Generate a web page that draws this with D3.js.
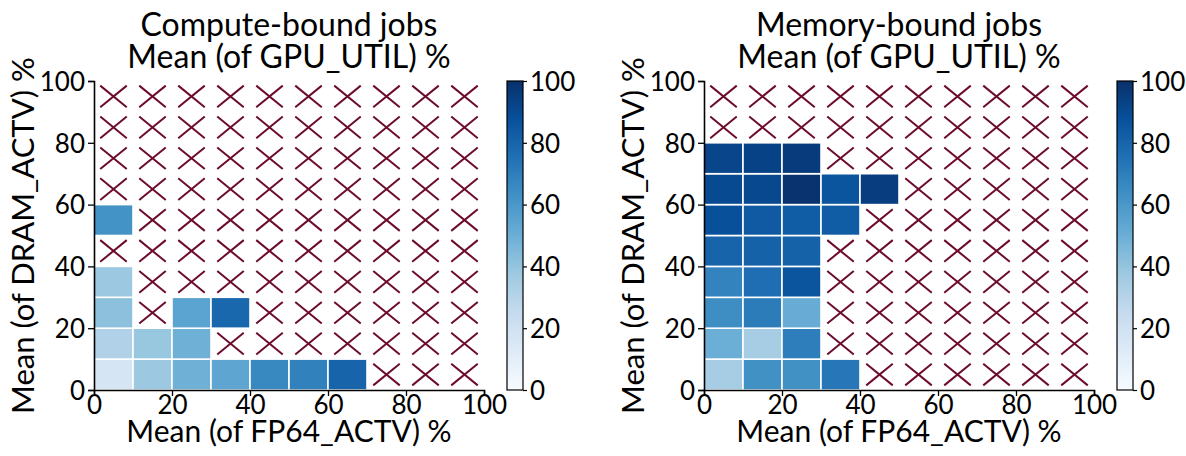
<!DOCTYPE html>
<html>
<head>
<meta charset="utf-8">
<script src="https://cdn.jsdelivr.net/npm/d3@7"></script>
<style>
  html, body { margin: 0; padding: 0; background: #fff; }
  svg text { font-family: "Lato", "DejaVu Sans", sans-serif; fill: #000; }
</style>
</head>
<body>
<svg id="chart" width="1186" height="456"></svg>
<script>
// Bin edges (percent) shared by both heatmaps
const binEdges = [0, 10, 20, 30, 40, 50, 60, 70, 80, 90, 100];
const tickValues = [0, 20, 40, 60, 80, 100];

// Mean GPU_UTIL % per (DRAM_ACTV bin, FP64_ACTV bin); rows go from DRAM 0-10 upward.
// null = no jobs in that bin.
const computeBoundUtil = [
  [17, 38, 49, 54, 66, 69, 80, null, null, null],
  [32, 39, 49, null, null, null, null, null, null, null],
  [42, null, 55, 79, null, null, null, null, null, null],
  [38, null, null, null, null, null, null, null, null, null],
  [null, null, null, null, null, null, null, null, null, null],
  [62, null, null, null, null, null, null, null, null, null],
  [null, null, null, null, null, null, null, null, null, null],
  [null, null, null, null, null, null, null, null, null, null],
  [null, null, null, null, null, null, null, null, null, null],
  [null, null, null, null, null, null, null, null, null, null]
];

const memoryBoundUtil = [
  [35, 63, 63, 73, null, null, null, null, null, null],
  [50, 35, 70, null, null, null, null, null, null, null],
  [64, 71, 51, null, null, null, null, null, null, null],
  [68, 76, 86, null, null, null, null, null, null, null],
  [80, 81, 81, null, null, null, null, null, null, null],
  [88, 84, 83, 83, null, null, null, null, null, null],
  [90, 91, 99, 86, 95, null, null, null, null, null],
  [92, 93, 96, null, null, null, null, null, null, null],
  [null, null, null, null, null, null, null, null, null, null],
  [null, null, null, null, null, null, null, null, null, null]
];

const panelTitles = [
  ["Compute-bound jobs", "Mean (of GPU_UTIL) %"],
  ["Memory-bound jobs", "Mean (of GPU_UTIL) %"]
];
const xLabel = "Mean (of FP64_ACTV) %";
const yLabel = "Mean (of DRAM_ACTV) %";

// Sequential "Blues" ramp
const bluesStops = ["#f7fbff", "#deebf7", "#c6dbef", "#9ecae1", "#6baed6",
                    "#4292c6", "#2171b5", "#08519c", "#08306b"];
const color = d3.scaleLinear()
  .domain(bluesStops.map((_, i) => i * 100 / (bluesStops.length - 1)))
  .range(bluesStops)
  .interpolate(d3.interpolateRgb)
  .clamp(true);

const svg = d3.select("#chart");
const defs = svg.append("defs");
const grad = defs.append("linearGradient")
  .attr("id", "bluesGrad").attr("x1", 0).attr("y1", 1).attr("x2", 0).attr("y2", 0);
bluesStops.forEach((c, i) => {
  grad.append("stop").attr("offset", i / (bluesStops.length - 1)).attr("stop-color", c);
});

const plotTop = 81, plotH = 309, plotW = 390;
const panels = [
  { data: computeBoundUtil, left: 94, cbLeft: 507, titles: panelTitles[0] },
  { data: memoryBoundUtil, left: 704, cbLeft: 1117, titles: panelTitles[1] }
];

const tickFont = 26, labelFont = 30, titleFont = 32;
const crossColor = "#6c0b2d";

panels.forEach(p => {
  const x = d3.scaleLinear().domain([0, 100]).range([0, plotW]);
  const y = d3.scaleLinear().domain([0, 100]).range([plotH, 0]);
  const g = svg.append("g").attr("transform", `translate(${p.left},${plotTop})`);

  const cells = [];
  p.data.forEach((row, r) => row.forEach((v, c) => cells.push({ r, c, v })));

  // filled bins
  g.selectAll("rect.cell").data(cells.filter(d => d.v !== null)).join("rect")
    .attr("class", "cell")
    .attr("x", d => x(binEdges[d.c]))
    .attr("y", d => y(binEdges[d.r + 1]))
    .attr("width", d => x(binEdges[d.c + 1]) - x(binEdges[d.c]))
    .attr("height", d => y(binEdges[d.r]) - y(binEdges[d.r + 1]))
    .attr("fill", d => color(d.v))
    .attr("stroke", "#fff")
    .attr("stroke-width", 1.6);

  // empty bins marked with a cross
  const empty = cells.filter(d => d.v === null);
  const crosses = g.selectAll("g.cross").data(empty).join("g").attr("class", "cross");
  const insetX = 0.16, insetY = 0.15;
  crosses.each(function(d) {
    const x0 = x(binEdges[d.c]), x1 = x(binEdges[d.c + 1]);
    const yT = y(binEdges[d.r + 1]), yB = y(binEdges[d.r]);
    const w = x1 - x0, h = yB - yT;
    const ax = x0 + w * insetX, bx = x1 - w * insetX;
    const ay = yT + h * insetY, by = yB - h * insetY;
    const s = d3.select(this);
    s.append("line").attr("x1", ax).attr("y1", ay).attr("x2", bx).attr("y2", by);
    s.append("line").attr("x1", ax).attr("y1", by).attr("x2", bx).attr("y2", ay);
  });
  crosses.selectAll("line").attr("stroke", crossColor).attr("stroke-width", 2);

  // axes
  const xAxis = g.append("g").attr("transform", `translate(0,${plotH})`)
    .call(d3.axisBottom(x).tickValues(tickValues).tickSize(6).tickPadding(4));
  const yAxis = g.append("g")
    .call(d3.axisLeft(y).tickValues(tickValues).tickSize(6).tickPadding(3));
  [xAxis, yAxis].forEach(a => {
    a.select(".domain").attr("stroke", "#000").attr("stroke-width", 1.6);
    a.selectAll(".tick line").attr("stroke", "#000").attr("stroke-width", 1.3);
    a.selectAll(".tick text").attr("font-size", tickFont)
      .style("font-family", '"Lato", sans-serif').attr("fill", "#000");
  });
  xAxis.selectAll(".tick text").attr("dy", null).attr("y", 24);
  yAxis.selectAll(".tick text").attr("dy", "0.36em");

  // axis titles
  g.append("text")
    .attr("x", plotW / 2).attr("y", 442 - plotTop)
    .attr("text-anchor", "middle").attr("font-size", labelFont)
    .text(xLabel);
  g.append("text")
    .attr("transform", `translate(-60,${plotH / 2}) rotate(-90)`)
    .attr("text-anchor", "middle").attr("font-size", 31)
    .text(yLabel);

  // panel title (two lines)
  g.append("text")
    .attr("x", plotW / 2).attr("y", 36 - plotTop)
    .attr("text-anchor", "middle").attr("font-size", titleFont)
    .text(p.titles[0]);
  g.append("text")
    .attr("x", plotW / 2).attr("y", 68 - plotTop)
    .attr("text-anchor", "middle").attr("font-size", titleFont)
    .text(p.titles[1]);

  // colour bar
  const cbW = 16;
  const cb = svg.append("g").attr("transform", `translate(${p.cbLeft},${plotTop})`);
  cb.append("rect").attr("width", cbW).attr("height", plotH)
    .attr("fill", "url(#bluesGrad)").attr("stroke", "#000").attr("stroke-width", 1.2);
  const cbScale = d3.scaleLinear().domain([0, 100]).range([plotH, 0]);
  const cbAxis = cb.append("g").attr("transform", `translate(${cbW},0)`)
    .call(d3.axisRight(cbScale).tickValues(tickValues).tickSize(4).tickPadding(3));
  cbAxis.select(".domain").remove();
  cbAxis.selectAll(".tick line").attr("stroke", "#000").attr("stroke-width", 1.2);
  cbAxis.selectAll(".tick text").attr("font-size", tickFont)
    .style("font-family", '"Lato", sans-serif').attr("fill", "#000").attr("dy", "0.36em");
});
</script>
</body>
</html>
